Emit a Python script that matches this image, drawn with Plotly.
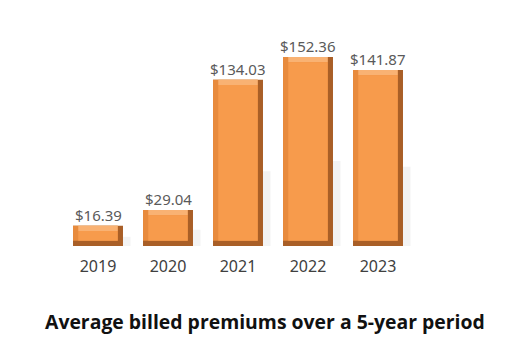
import plotly.graph_objects as go

years = ["2019", "2020", "2021", "2022", "2023"]
premiums = [16.39, 29.04, 134.03, 152.36, 141.87]
value_labels = ["$16.39", "$29.04", "$134.03", "$152.36", "$141.87"]
title_text = "Average billed premiums over a 5-year period"

W = 0.714      # bar width (category units)
BX = 0.075     # bevel width (category units)
BY = 4.2       # bevel height (data units)

fig = go.Figure()

def add_bar(y, base, width, offset, color, opacity=1.0):
    fig.add_trace(go.Bar(
        x=list(range(len(years))), y=y, base=base, width=width, offset=offset,
        marker=dict(color=color, line=dict(width=0)), opacity=opacity,
        hoverinfo="skip", showlegend=False,
    ))

n = len(years)
# soft shadow
add_bar([v * 0.45 for v in premiums], [0] * n, [W * 0.45] * n, [-W / 2 + W * 0.7] * n, "#e6e6e6", 0.45)
# dark outer (bottom + right bevel)
add_bar(premiums, [0] * n, [W] * n, [-W / 2] * n, "#a95f27")
# left / top medium bevel
add_bar([v - BY for v in premiums], [BY] * n, [W - BX] * n, [-W / 2] * n, "#e88b3d")
# top light bevel
add_bar([BY] * n, [v - BY for v in premiums], [W - 2 * BX] * n, [-W / 2 + BX] * n, "#f9b273")
# face
add_bar([v - 2 * BY for v in premiums], [BY] * n, [W - 2 * BX] * n, [-W / 2 + BX] * n, "#f79b4c")

for i, (v, lab) in enumerate(zip(premiums, value_labels)):
    fig.add_annotation(x=i, y=v, text=lab, showarrow=False, yanchor="middle", yshift=11,
                       font=dict(family="Noto Sans, sans-serif", size=15, color="#5a5a5a"))

fig.add_annotation(xref="paper", yref="paper", x=0.577, y=-0.333, text="<b>" + title_text + "</b>",
                   showarrow=False, xanchor="center", yanchor="middle",
                   font=dict(family="Open Sans, sans-serif", size=19.4, color="#111111"))

fig.update_layout(
    width=519, height=347, margin=dict(l=63, r=106, t=20, b=101),
    paper_bgcolor="white", plot_bgcolor="white", barmode="overlay",
    xaxis=dict(range=[-0.5, 4.5], showgrid=False, zeroline=False, showline=False,
               ticks="", ticklabelstandoff=9, tickmode="array",
               tickvals=list(range(len(years))), ticktext=years,
               tickfont=dict(family="Noto Sans, sans-serif", size=16, color="#404040")),
    yaxis=dict(range=[0, 182.2], visible=False),
)
fig.write_html("out.html")
